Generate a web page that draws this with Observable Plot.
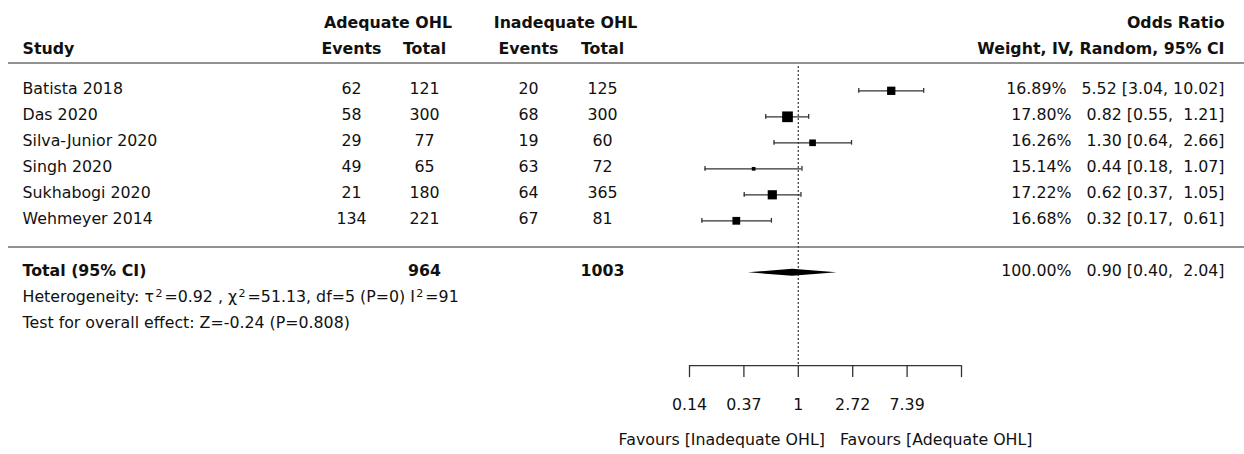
<!DOCTYPE html>
<html><head><meta charset="utf-8">
<script src="https://cdn.jsdelivr.net/npm/d3@7"></script>
<script src="https://cdn.jsdelivr.net/npm/@observablehq/plot@0.6"></script>
<style>
body{margin:0;background:#fff;}
svg text{white-space:pre;}
</style></head><body><div id="chart"></div>
<script>
// ---- data ----
const studies = ["Batista 2018","Das 2020","Silva-Junior 2020","Singh 2020","Sukhabogi 2020","Wehmeyer 2014"];
const adqEvents = [62,58,29,49,21,134];
const adqTotal = [121,300,77,65,180,221];
const inadqEvents = [20,68,19,63,64,67];
const inadqTotal = [125,300,60,72,365,81];
const weights = [16.89,17.80,16.26,15.14,17.22,16.68];
const orEst = [5.52,0.82,1.30,0.44,0.62,0.32];
const orLo = [3.04,0.55,0.64,0.18,0.37,0.17];
const orHi = [10.02,1.21,2.66,1.07,1.05,0.61];
const totalLabel = "Total (95% CI)";
const totalAdq = "964", totalInadq = "1003";
const totalWeight = 100.00, totalOR = 0.90, totalLo = 0.40, totalHi = 2.04;
// heterogeneity text pieces: [text, isSuperscript]
const heterogeneityParts = [["Heterogeneity: τ", 0], ["2", 1], ["=0.92 , χ", 0], ["2", 1], ["=51.13, df=5 (P=0) I", 0], ["2", 1], ["=91", 0]];
const overallText = "Test for overall effect: Z=-0.24 (P=0.808)";
const tickExponents = [-2,-1,0,1,2,3];
const tickLabels = ["0.14","0.37","1","2.72","7.39",""];
const favoursText = "Favours [Inadequate OHL]   Favours [Adequate OHL]";
const groupHeaders = ["Adequate OHL","Inadequate OHL"];
const colHeaders = ["Events","Total","Events","Total"];

// ---- layout (positions/styles) ----
const NB = "\u00A0";
const fmtCI = (w, e, lo, hi) =>
  `${w.toFixed(2)}%${NB}${NB}${NB}${e.toFixed(2)}${NB}[${lo.toFixed(2)},${NB}${hi.toFixed(2).padStart(5, NB)}]`;
const mL = 8;
const col = {study: 22, ae: 351, at: 424, ie: 528, it: 602, right: 1224};
const font = "DejaVu Sans";
const fs = 15.8;
const rowsY = {h1: -2.55, h2: -1.55, line1: -1.07, line2: 6.01, total: 7, het: 8, test: 9,
  dotTop: -0.93, axis: 10.57, tickEnd: 11.03, tickLab: 12.1, favours: 13.41};
const tdy = -2;

const rows = studies.map((s, i) => ({
  i, study: s, ae: adqEvents[i], at: adqTotal[i], ie: inadqEvents[i], it: inadqTotal[i],
  w: weights[i], or: orEst[i], lo: orLo[i], hi: orHi[i],
  ci: fmtCI(weights[i], orEst[i], orLo[i], orHi[i])
}));
const diamond = [
  {x: totalLo, h: 0}, {x: totalOR, h: 0.135}, {x: totalHi, h: 0}
];
const ticks = tickExponents.map((k, j) => ({v: Math.exp(k), label: tickLabels[j]}));

const txt = (data, opts) => Plot.text(data, {fontFamily: font, fontSize: fs, fill: "#111", dy: tdy, ...opts});
const at = (x, anchor = "middle") => ({frameAnchor: "left", dx: x - mL, textAnchor: anchor});

const plot = Plot.plot({
  width: 1244, height: 454,
  marginLeft: mL, marginRight: 0, marginTop: 0, marginBottom: 0,
  style: {background: "#fff", fontFamily: font, overflow: "visible"},
  x: {type: "log", domain: [Math.exp(-2), Math.exp(3)], range: [689, 961], axis: null},
  y: {type: "linear", domain: [0, 10], range: [90.3, 350.3], axis: null},
  r: {type: "linear", domain: d3.extent(weights), range: [2.09, 6.04]},
  marks: [
    // separator lines
    Plot.ruleY([rowsY.line1, rowsY.line2], {stroke: "#6e6e6e", strokeWidth: 1.6}),
    // reference line at OR = 1
    Plot.ruleX([1], {y1: rowsY.dotTop, y2: rowsY.axis, stroke: "#444", strokeWidth: 1.3, strokeDasharray: "2,2"}),
    // header texts
    txt([groupHeaders[0]], {y: rowsY.h1, text: d => d, fontWeight: "bold", ...at((col.ae + col.at) / 2)}),
    txt([groupHeaders[1]], {y: rowsY.h1, text: d => d, fontWeight: "bold", ...at((col.ie + col.it) / 2)}),
    txt(["Odds Ratio"], {y: rowsY.h1, text: d => d, fontWeight: "bold", ...at(col.right, "end")}),
    txt(["Study"], {y: rowsY.h2, text: d => d, fontWeight: "bold", ...at(col.study, "start")}),
    txt([colHeaders[0]], {y: rowsY.h2, text: d => d, fontWeight: "bold", ...at(col.ae)}),
    txt([colHeaders[1]], {y: rowsY.h2, text: d => d, fontWeight: "bold", ...at(col.at)}),
    txt([colHeaders[2]], {y: rowsY.h2, text: d => d, fontWeight: "bold", ...at(col.ie)}),
    txt([colHeaders[3]], {y: rowsY.h2, text: d => d, fontWeight: "bold", ...at(col.it)}),
    txt(["Weight, IV, Random, 95% CI"], {y: rowsY.h2, text: d => d, fontWeight: "bold", ...at(col.right, "end")}),
    // study rows
    txt(rows, {y: "i", text: "study", ...at(col.study, "start")}),
    txt(rows, {y: "i", text: d => String(d.ae), ...at(col.ae)}),
    txt(rows, {y: "i", text: d => String(d.at), ...at(col.at)}),
    txt(rows, {y: "i", text: d => String(d.ie), ...at(col.ie)}),
    txt(rows, {y: "i", text: d => String(d.it), ...at(col.it)}),
    txt(rows, {y: "i", text: "ci", ...at(col.right, "end")}),
    // CI whiskers
    Plot.ruleY(rows, {y: "i", x1: "lo", x2: "hi", stroke: "#333", strokeWidth: 1.3}),
    Plot.ruleX(rows, {x: "lo", y1: d => d.i - 0.09, y2: d => d.i + 0.09, stroke: "#333", strokeWidth: 1.3}),
    Plot.ruleX(rows, {x: "hi", y1: d => d.i - 0.09, y2: d => d.i + 0.09, stroke: "#333", strokeWidth: 1.3}),
    Plot.dot(rows, {x: "or", y: "i", r: "w", symbol: "square", fill: "#000"}),
    // total row
    txt([totalLabel], {y: rowsY.total, text: d => d, fontWeight: "bold", ...at(col.study, "start")}),
    txt([totalAdq], {y: rowsY.total, text: d => d, fontWeight: "bold", ...at(col.at)}),
    txt([totalInadq], {y: rowsY.total, text: d => d, fontWeight: "bold", ...at(col.it)}),
    txt([fmtCI(totalWeight, totalOR, totalLo, totalHi)], {y: rowsY.total, text: d => d, ...at(col.right, "end")}),
    Plot.areaY(diamond, {x: "x", y1: d => rowsY.total - d.h, y2: d => rowsY.total + d.h, fill: "#000"}),
    txt([heterogeneityParts.map(p => p[0]).join("")], {y: rowsY.het, text: d => d, className: "het", ...at(col.study, "start")}),
    txt([overallText], {y: rowsY.test, text: d => d, ...at(col.study, "start")}),
    // custom axis
    Plot.ruleY([rowsY.axis], {x1: Math.exp(-2), x2: Math.exp(3), stroke: "#333", strokeWidth: 1.3}),
    Plot.ruleX(ticks, {x: "v", y1: rowsY.axis, y2: rowsY.tickEnd, stroke: "#333", strokeWidth: 1.3}),
    Plot.text(ticks, {x: "v", y: rowsY.tickLab, text: "label", fontFamily: font, fontSize: fs, fill: "#111"}),
    Plot.text([favoursText], {x: Math.exp(0.5), y: rowsY.favours, text: d => d, fontFamily: font, fontSize: fs, fill: "#111"})
  ]
});
document.getElementById("chart").appendChild(plot);

// render superscripts in the heterogeneity line as tspans
const hetText = plot.querySelector("g.het text");
if (hetText) {
  hetText.textContent = "";
  const ns = "http://www.w3.org/2000/svg";
  heterogeneityParts.forEach(([s, sup]) => {
    const t = document.createElementNS(ns, "tspan");
    t.textContent = s;
    if (sup) {
      t.setAttribute("font-size", "70%");
      t.setAttribute("dx", "1.5");
      t.setAttribute("baseline-shift", "45%");
    } else if (s.startsWith("=")) {
      t.setAttribute("dx", "2");
    }
    hetText.appendChild(t);
  });
}
</script>
</body></html>
